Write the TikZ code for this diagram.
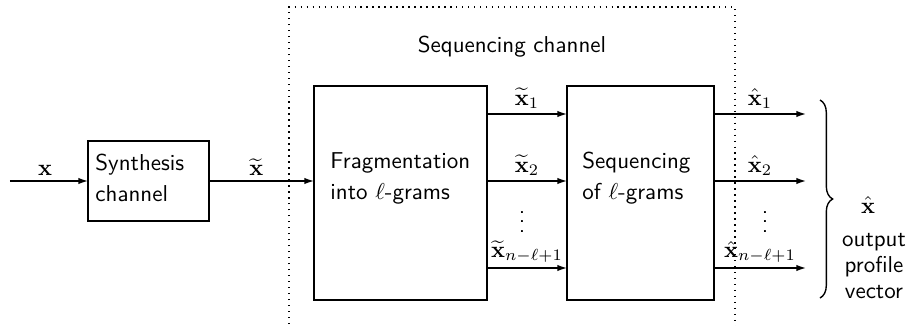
\documentclass[tikz,border=0pt]{standalone}
\usetikzlibrary{decorations.pathreplacing,fit,arrows.meta}
\begin{document}
\begin{tikzpicture}[x=0.435pt,y=-0.435pt,font=\sffamily,
  blk/.style={draw,line width=0.6pt,inner sep=0pt,outer sep=0pt},
  arr/.style={-{Latex[length=4.2pt,width=2.8pt]},line width=0.6pt},
  lbl/.style={above,inner sep=2pt}]
\useasboundingbox (0,0) rectangle (909,326);
% dotted sequencing channel frame
\draw[dotted,line width=0.6pt] (289,330) -- (289,7) -- (735,7) -- (735,330);
\node (seqch) at (512,47) {Sequencing channel};
% blocks
\node[blk,fit={(88,141) (209,221)}] (syn) {};
\node[blk,fit={(314,86) (487,300)}] (frag) {};
\node[blk,fit={(567,86) (714,300)}] (seq) {};
\node[align=left,anchor=west,inner sep=0pt] (syntxt) at (95,178) {Synthesis\\[1.5pt]channel};
\node[align=left,anchor=west,inner sep=0pt] (fragtxt) at (330,178) {Fragmentation\\[1.5pt]into $\ell$-grams};
\node[align=left,anchor=west,inner sep=0pt] (seqtxt) at (582,178) {Sequencing\\[1.5pt]of $\ell$-grams};
% input
\coordinate (in) at (10,181);
\draw[arr] (in) -- node[lbl,pos=0.45] {$\mathbf{x}$} (syn.west |- in);
\draw[arr] (syn.east |- in) -- node[lbl,pos=0.45] {$\widetilde{\mathbf{x}}$} (frag.west |- in);
% between blocks
\coordinate (r1) at (0,114);
\coordinate (r2) at (0,181);
\coordinate (r3) at (0,268);
\draw[arr] (frag.east |- r1) -- node[lbl] {$\widetilde{\mathbf{x}}_1$} (seq.west |- r1);
\draw[arr] (frag.east |- r2) -- node[lbl] {$\widetilde{\mathbf{x}}_2$} (seq.west |- r2);
\draw[arr] (frag.east |- r3) -- node[lbl] {$\widetilde{\mathbf{x}}_{n-\ell+1}$} (seq.west |- r3);
\node (vd1) at (522,215) {$\vdots$};
% outputs
\coordinate (o1) at (806,114);
\coordinate (o2) at (806,181);
\coordinate (o3) at (806,268);
\draw[arr] (seq.east |- o1) -- node[lbl] {$\hat{\mathbf{x}}_1$} (o1);
\draw[arr] (seq.east |- o2) -- node[lbl] {$\hat{\mathbf{x}}_2$} (o2);
\draw[arr] (seq.east |- o3) -- node[lbl] {$\hat{\mathbf{x}}_{n-\ell+1}$} (o3);
\node (vd2) at (765,215) {$\vdots$};
% brace
\coordinate (bt) at (820,100);
\coordinate (bb) at (820,298);
\draw[decorate,decoration={brace,amplitude=5.5pt},line width=0.6pt] (bt) -- (bb);
\node (xhat) at (868,205) {$\hat{\mathbf{x}}$};
\node (out1) at (874,242) {output};
\node (out2) at (874,267) {profile};
\node (out3) at (874,292) {vector};
\end{tikzpicture}
\end{document}
